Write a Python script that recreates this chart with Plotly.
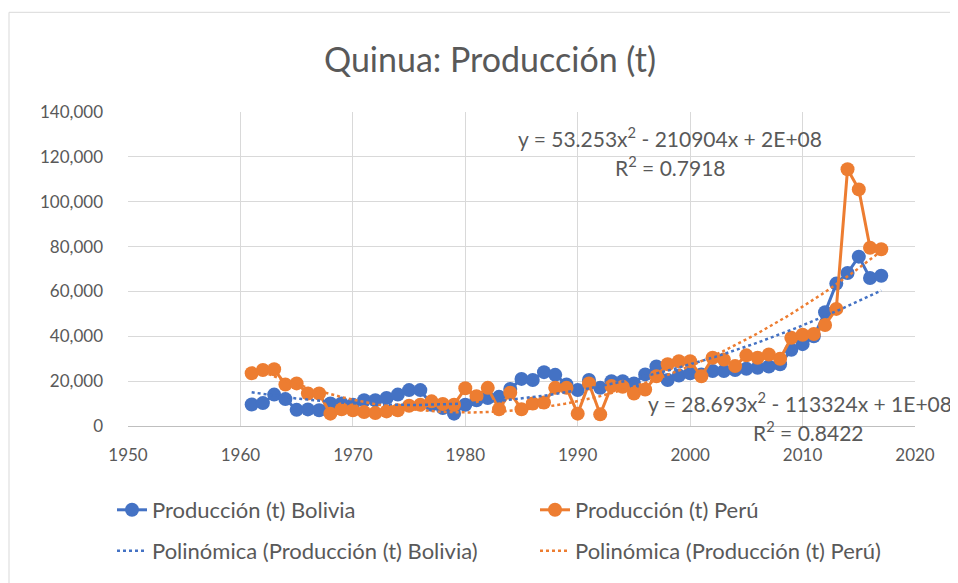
import numpy as np
import plotly.graph_objects as go

years = list(range(1961, 2018))
bolivia = [9600, 10200, 14000, 12000, 7200, 7400, 7000, 10000, 10000, 9500,
           11500, 11500, 12500, 14000, 16000, 16000, 9500, 8000, 5500, 9500,
           11500, 12500, 13000, 16500, 21000, 20500, 24000, 22800, 18500, 16000,
           20500, 17000, 20000, 20000, 19000, 23000, 26500, 20500, 22500, 23500,
           23000, 24500, 24500, 25000, 25500, 26000, 26500, 27500, 34000, 36500,
           40000, 50700, 63500, 68200, 75500, 66000, 67000]
peru = [23500, 25000, 25300, 18500, 19000, 14500, 14500, 5500, 7500, 7000,
        6200, 5800, 6500, 7000, 9000, 9500, 11000, 9800, 9500, 16800,
        13300, 17000, 7500, 14800, 7500, 10000, 10500, 17000, 17000, 5500,
        19000, 5200, 17800, 17500, 14500, 16300, 22200, 27500, 28900, 28900,
        22200, 30400, 29600, 26700, 31500, 30400, 31900, 30000, 39300, 40700,
        41000, 45000, 52200, 114500, 105500, 79500, 78800]

title_text = "Quinua: Producción (t)"
name_bol = "Producción (t) Bolivia"
name_per = "Producción (t) Perú"
name_tb = "Polinómica (Producción (t) Bolivia)"
name_tp = "Polinómica (Producción (t) Perú)"
eq_per = ["y = 53.253x<sup>2</sup> - 210904x + 2E+08", "R<sup>2</sup> = 0.7918"]
eq_bol = ["y = 28.693x<sup>2</sup> - 113324x + 1E+08", "R<sup>2</sup> = 0.8422"]

BLUE = "#4472C4"
ORANGE = "#ED7D31"
GREY = "#595959"
FONT = "Lato, 'Open Sans', sans-serif"

yr = np.array(years, dtype=float)
xc = yr - 1990.0
dense = np.linspace(1961, 2017, 200)

def trend(vals):
    c = np.polyfit(xc, np.array(vals, dtype=float), 2)
    return np.polyval(c, dense - 1990.0)

fig = go.Figure()
fig.add_trace(go.Scatter(x=years, y=bolivia, mode="lines+markers", name=name_bol,
                         line=dict(color=BLUE, width=3), marker=dict(size=14, color=BLUE),
                         legend="legend"))
fig.add_trace(go.Scatter(x=years, y=peru, mode="lines+markers", name=name_per,
                         line=dict(color=ORANGE, width=3), marker=dict(size=14, color=ORANGE),
                         legend="legend"))
fig.add_trace(go.Scatter(x=dense, y=trend(bolivia), mode="lines", name=name_tb,
                         line=dict(color=BLUE, width=2.5, dash="dot"), legend="legend2"))
fig.add_trace(go.Scatter(x=dense, y=trend(peru), mode="lines", name=name_tp,
                         line=dict(color=ORANGE, width=2.5, dash="dot"), legend="legend2"))

# page body has an 8px margin; work in screen pixels and subtract it
OFF = 8
W, H = 958 - OFF, 583 - OFF
L = 128 - OFF
R = 958 - 915
T = 112 - OFF
B = 583 - 427
pw = W - L - R
ph = H - T - B

def px_x(p):
    return (p - OFF - L) / pw

def px_y(p):
    return (H - B - (p - OFF)) / ph

legend_common = dict(orientation="h", xanchor="left", yanchor="middle",
                     font=dict(family=FONT, size=22, color=GREY),
                     entrywidth=378, entrywidthmode="pixels",
                     bgcolor="rgba(0,0,0,0)")

afont = dict(family=FONT, size=21, color=GREY)
annots = []
for txt, yp in zip(eq_per, [137, 166]):
    annots.append(dict(x=px_x(670), y=px_y(yp), xref="paper", yref="paper",
                       text=txt, showarrow=False, xanchor="center", yanchor="middle",
                       font=afont))
annots.append(dict(x=px_x(954), y=px_y(403), xref="paper", yref="paper",
                   text=eq_bol[0], showarrow=False, xanchor="right", yanchor="middle",
                   font=afont))
annots.append(dict(x=px_x(808), y=px_y(432), xref="paper", yref="paper",
                   text=eq_bol[1], showarrow=False, xanchor="center", yanchor="middle",
                   font=afont))

fig.update_layout(
    width=W, height=H,
    margin=dict(l=L, r=R, t=T, b=B),
    paper_bgcolor="white", plot_bgcolor="white",
    font=dict(family=FONT, color=GREY),
    title=dict(text=title_text, x=(490 - OFF) / W, xref="container", xanchor="center",
               y=1 - (60 - OFF) / H, yref="container", yanchor="middle",
               font=dict(family=FONT, size=34, color=GREY)),
    xaxis=dict(range=[1950, 2020], dtick=10, tick0=1950, showgrid=True,
               gridcolor="#d9d9d9", gridwidth=1, zeroline=False,
               showline=True, linecolor="#bfbfbf", linewidth=1,
               ticks="", tickfont=dict(family=FONT, size=17, color=GREY),
               ticklabelstandoff=14),
    yaxis=dict(range=[0, 140000], dtick=20000, tick0=0, showgrid=True,
               gridcolor="#d9d9d9", gridwidth=1, zeroline=False,
               showline=False, ticks="", tickformat=",",
               tickfont=dict(family=FONT, size=17, color=GREY),
               ticklabelstandoff=24),
    legend=dict(x=px_x(113), y=px_y(510), **legend_common),
    legend2=dict(x=px_x(113), y=px_y(551), **legend_common),
    annotations=annots,
    shapes=[dict(type="rect", xref="paper", yref="paper",
                 x0=px_x(9), x1=px_x(990), y0=px_y(600), y1=px_y(12),
                 line=dict(color="#d9d9d9", width=1), fillcolor="rgba(0,0,0,0)",
                 layer="below")],
)

fig.write_html("out.html")
